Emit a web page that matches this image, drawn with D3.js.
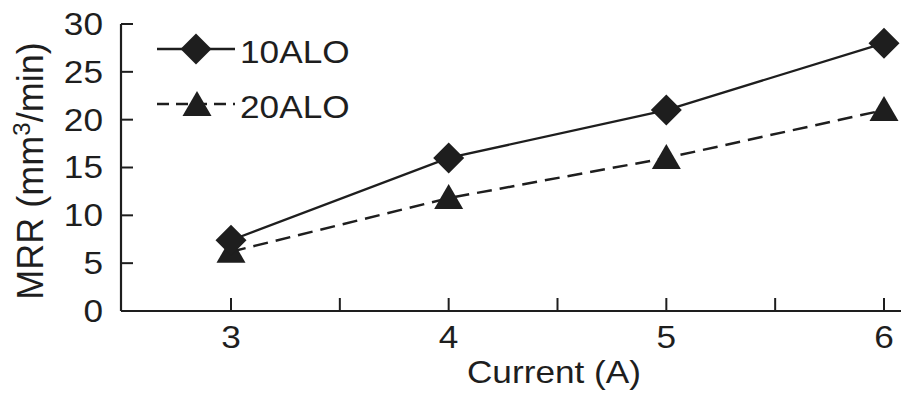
<!DOCTYPE html>
<html><head><meta charset="utf-8">
<script src="https://cdn.jsdelivr.net/npm/d3@7"></script>
<style>
html,body{margin:0;padding:0;background:#fff;}
svg{display:block;}
text{font-family:"Liberation Sans",Arial,Helvetica,sans-serif;fill:#1e1e1e;}
</style></head>
<body>
<script>
// ---- data ----
const currents = [3, 4, 5, 6];
const series10ALO = [7.4, 16, 21, 28];
const series20ALO = [6.2, 11.8, 16, 21];
const seriesNames = ["10ALO", "20ALO"];
const yTickValues = [0, 5, 10, 15, 20, 25, 30];
const xTickValues = [3, 3.5, 4, 4.5, 5, 5.5, 6];
const xLabelValues = [3, 4, 5, 6];
const xTitle = "Current (A)";

const W = 901, H = 394;
const ink = "#1e1e1e";
const STRETCH = 1.1;
const svg = d3.select("body").append("svg").attr("width", W).attr("height", H);

const x = d3.scaleLinear().domain([3, 6]).range([231, 884]);
const y = d3.scaleLinear().domain([0, 30]).range([311, 24]);
const x0 = x.invert(121), x1 = x.invert(901);

function stretch(sel) {
  sel.each(function () {
    const len = this.getComputedTextLength();
    d3.select(this).attr("textLength", len * STRETCH).attr("lengthAdjust", "spacingAndGlyphs");
  });
}

// axes lines
svg.append("line").attr("x1", x(x0)).attr("x2", x(x1)).attr("y1", y(0)).attr("y2", y(0))
  .attr("stroke", ink).attr("stroke-width", 2.2);
svg.append("line").attr("x1", x(x0)).attr("x2", x(x0)).attr("y1", y(0)).attr("y2", y(30))
  .attr("stroke", ink).attr("stroke-width", 2.2);

// y ticks (inward)
svg.selectAll(".yt").data(yTickValues).enter().append("line")
  .attr("x1", x(x0)).attr("x2", x(x0) + 12)
  .attr("y1", d => y(d)).attr("y2", d => y(d))
  .attr("stroke", ink).attr("stroke-width", 2);
svg.selectAll(".yl").data(yTickValues).enter().append("text")
  .attr("x", 103).attr("y", d => y(d)).attr("dy", "0.34em")
  .attr("text-anchor", "end").attr("font-size", 32)
  .text(d => d).call(stretch);

// x ticks (inward)
svg.selectAll(".xt").data(xTickValues).enter().append("line")
  .attr("x1", d => x(d)).attr("x2", d => x(d))
  .attr("y1", y(0)).attr("y2", y(0) - 13)
  .attr("stroke", ink).attr("stroke-width", 2);
svg.selectAll(".xl").data(xLabelValues).enter().append("text")
  .attr("x", d => x(d)).attr("y", 348)
  .attr("text-anchor", "middle").attr("font-size", 32)
  .text(d => d).call(stretch);

// axis titles
svg.append("text").attr("x", 554).attr("y", 383).attr("text-anchor", "middle")
  .attr("font-size", 32).text(xTitle).call(stretch);

const yt = svg.append("text").attr("transform", "translate(43,171) rotate(-90)")
  .attr("text-anchor", "middle").attr("font-size", 36);
yt.append("tspan").text("MRR (mm");
yt.append("tspan").attr("font-size", 24).attr("dy", -13).text("3");
yt.append("tspan").attr("dy", 13).text("/min)");

// markers
const diamond = s => `M0,${-s}L${s},0L0,${s}L${-s},0Z`;
const triangle = (w, top, bot) => `M0,${-top}L${w / 2},${bot}L${-w / 2},${bot}Z`;
const diamondPath = diamond(15.5);
const trianglePath = triangle(29, 14, 11);

const line = d3.line().x(d => x(d[0])).y(d => y(d[1]));
const d10 = currents.map((c, i) => [c, series10ALO[i]]);
const d20 = currents.map((c, i) => [c, series20ALO[i]]);

svg.append("path").attr("d", line(d20)).attr("fill", "none").attr("stroke", ink)
  .attr("stroke-width", 2.5).attr("stroke-dasharray", "15,8");
svg.append("path").attr("d", line(d10)).attr("fill", "none").attr("stroke", ink)
  .attr("stroke-width", 2.3);

svg.selectAll(".tri").data(d20).enter().append("path")
  .attr("d", trianglePath).attr("fill", ink)
  .attr("transform", d => `translate(${x(d[0])},${y(d[1])})`);
svg.selectAll(".dia").data(d10).enter().append("path")
  .attr("d", diamondPath).attr("fill", ink)
  .attr("transform", d => `translate(${x(d[0])},${y(d[1])})`);

// legend
const lg = svg.append("g");
lg.append("line").attr("x1", 157).attr("x2", 235).attr("y1", 49).attr("y2", 49)
  .attr("stroke", ink).attr("stroke-width", 2.3);
lg.append("path").attr("d", diamondPath).attr("fill", ink).attr("transform", "translate(196,49)");
lg.append("text").attr("x", 240).attr("y", 63).attr("font-size", 32).text(seriesNames[0]).call(stretch);

lg.append("line").attr("x1", 157).attr("x2", 235).attr("y1", 104).attr("y2", 104)
  .attr("stroke", ink).attr("stroke-width", 2.5).attr("stroke-dasharray", "12,7");
lg.append("path").attr("d", trianglePath).attr("fill", ink).attr("transform", "translate(197,105)");
lg.append("text").attr("x", 240).attr("y", 118).attr("font-size", 32).text(seriesNames[1]).call(stretch);
</script>
</body></html>
